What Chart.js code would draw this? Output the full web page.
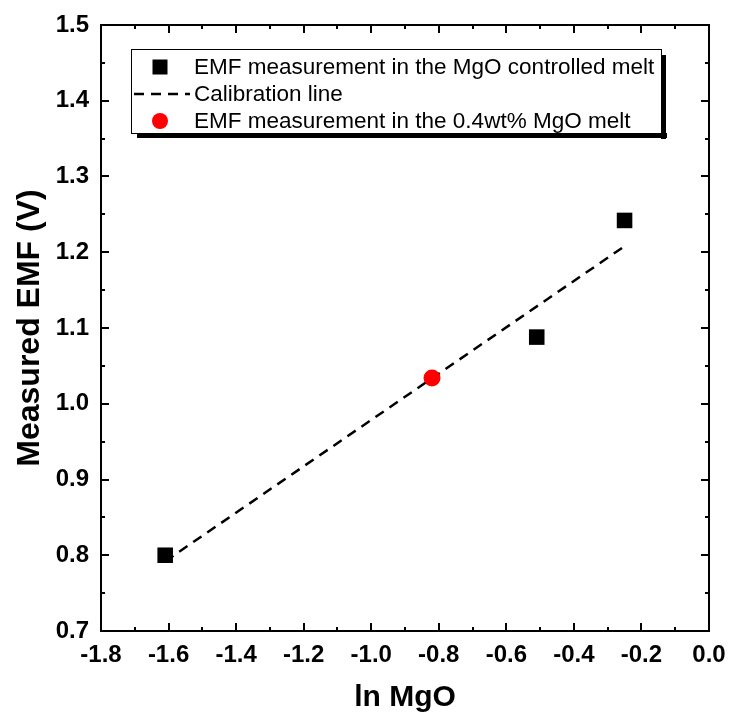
<!DOCTYPE html>
<html>
<head>
<meta charset="utf-8">
<script src="https://cdn.jsdelivr.net/npm/chart.js@4/dist/chart.umd.min.js"></script>
<style>
html,body{margin:0;padding:0;background:#fff;}
#wrap{width:729px;height:720px;}
</style>
</head>
<body>
<div id="wrap"><canvas id="c" width="729" height="720"></canvas></div>
<script>
// ---- data ----
const measLnMgO = [-1.61, -0.51, -0.25];
const measEMF   = [0.800, 1.088, 1.242];
const calLnMgO  = [-1.61, -0.25];
const calEMF    = [0.792, 1.208];
const sampleLnMgO = [-0.82];
const sampleEMF   = [1.034];
const seriesLabels = [
  'EMF measurement in the MgO controlled melt',
  'Calibration line',
  'EMF measurement in the 0.4wt% MgO melt'
];
const xTitle = 'ln MgO';
const yTitle = 'Measured EMF (V)';

const FONT = "'Liberation Sans', Arial, sans-serif";
const toPts = (xs, ys) => xs.map((x, i) => ({x: x, y: ys[i]}));

// inward ticks + frame
const framePlugin = {
  id: 'frame',
  afterDatasetsDraw(chart) {
    const {ctx, chartArea: a, scales} = chart;
    ctx.save();
    ctx.strokeStyle = '#000';
    ctx.lineWidth = 2;
    ctx.strokeRect(a.left, a.top, a.right - a.left, a.bottom - a.top);
    const xs = scales.x, ys = scales.y;
    xs.ticks.forEach(t => {
      const major = Math.round(t.value * 10) % 2 === 0;
      const L = major ? 8 : 4;
      const px = Math.round(xs.getPixelForValue(t.value));
      ctx.beginPath();
      ctx.moveTo(px, a.bottom); ctx.lineTo(px, a.bottom - L);
      ctx.moveTo(px, a.top); ctx.lineTo(px, a.top + L);
      ctx.stroke();
    });
    ys.ticks.forEach(t => {
      const major = Math.round(t.value * 20) % 2 === 0;
      const L = major ? 8 : 4;
      const py = Math.round(ys.getPixelForValue(t.value));
      ctx.beginPath();
      ctx.moveTo(a.left, py); ctx.lineTo(a.left + L, py);
      ctx.moveTo(a.right, py); ctx.lineTo(a.right - L, py);
      ctx.stroke();
    });
    ctx.restore();
  }
};

// custom framed legend with shadow
const legendPlugin = {
  id: 'boxLegend',
  afterDraw(chart) {
    const {ctx} = chart;
    const bx = 131, by = 49, bw = 530, bh = 84, sh = 5;
    ctx.save();
    ctx.fillStyle = '#000';
    ctx.fillRect(bx + bw, by + 6, sh, bh);
    ctx.fillRect(bx + 6, by + bh, bw, sh);
    ctx.fillStyle = '#fff';
    ctx.fillRect(bx, by, bw, bh);
    ctx.strokeStyle = '#000';
    ctx.lineWidth = 1;
    ctx.strokeRect(bx + 0.5, by + 0.5, bw, bh);
    const rows = [67, 94, 121];
    const symX = 160;
    ctx.font = '22.5px ' + FONT;
    ctx.textBaseline = 'middle';
    ctx.textAlign = 'left';
    chart.data.datasets.forEach((ds, i) => {
      const y = rows[i];
      if (i === 1) {
        ctx.strokeStyle = ds.borderColor;
        ctx.lineWidth = 2.5;
        ctx.setLineDash([10, 7]);
        ctx.beginPath();
        ctx.moveTo(134, y); ctx.lineTo(190, y);
        ctx.stroke();
        ctx.setLineDash([]);
      } else if (ds.pointStyle === 'rect') {
        ctx.fillStyle = ds.backgroundColor;
        ctx.fillRect(symX - 7.5, y - 7.5, 15, 15);
      } else {
        ctx.fillStyle = ds.backgroundColor;
        ctx.beginPath();
        ctx.arc(symX, y, 8, 0, Math.PI * 2);
        ctx.fill();
      }
      ctx.fillStyle = '#000';
      ctx.fillText(ds.label, 194, y + 1);
    });
    ctx.restore();
  }
};

new Chart(document.getElementById('c'), {
  type: 'scatter',
  data: {
    datasets: [
      {
        label: seriesLabels[0],
        data: toPts(measLnMgO, measEMF),
        pointStyle: 'rect',
        pointRadius: 11,
        backgroundColor: '#000',
        borderColor: '#000',
        borderWidth: 0,
        order: 1
      },
      {
        label: seriesLabels[1],
        type: 'line',
        data: toPts(calLnMgO, calEMF),
        showLine: true,
        borderColor: '#000',
        borderWidth: 2.5,
        borderDash: [10, 7],
        pointRadius: 0,
        fill: false,
        order: 2
      },
      {
        label: seriesLabels[2],
        data: toPts(sampleLnMgO, sampleEMF),
        pointStyle: 'circle',
        pointRadius: 8.5,
        backgroundColor: '#ff0000',
        borderColor: '#ff0000',
        borderWidth: 0,
        order: 0
      }
    ]
  },
  options: {
    responsive: false,
    animation: false,
    layout: {padding: {top: 25, right: 20, left: 0, bottom: 0}},
    plugins: {legend: {display: false}, tooltip: {enabled: false}},
    scales: {
      x: {
        type: 'linear',
        min: -1.8, max: 0,
        grid: {display: false, drawTicks: false},
        border: {display: false},
        ticks: {
          stepSize: 0.1,
          autoSkip: false,
          maxRotation: 0,
          padding: 10,
          color: '#000',
          font: {family: FONT, size: 24, weight: 'bold'},
          callback: v => (Math.round(v * 10) % 2 === 0 ? (Math.round(v * 10) / 10).toFixed(1) : '')
        },
        title: {display: true, text: xTitle, color: '#000',
          font: {family: FONT, size: 30, weight: 'bold'}, padding: {top: 0, bottom: 4}},
        afterFit: s => { s.height = 89; s.paddingLeft = 0; s.paddingRight = 0; }
      },
      y: {
        type: 'linear',
        min: 0.7, max: 1.5,
        grid: {display: false, drawTicks: false},
        border: {display: false},
        ticks: {
          stepSize: 0.05,
          autoSkip: false,
          padding: 12,
          color: '#000',
          font: {family: FONT, size: 24, weight: 'bold'},
          callback: v => (Math.round(v * 20) % 2 === 0 ? (Math.round(v * 10) / 10).toFixed(1) : '')
        },
        title: {display: true, text: yTitle, color: '#000',
          font: {family: FONT, size: 32, weight: 'bold'}, padding: {top: 11, bottom: 0}},
        afterFit: s => { s.width = 101; s.paddingTop = 0; s.paddingBottom = 0; }
      }
    }
  },
  plugins: [framePlugin, legendPlugin]
});
</script>
</body>
</html>
